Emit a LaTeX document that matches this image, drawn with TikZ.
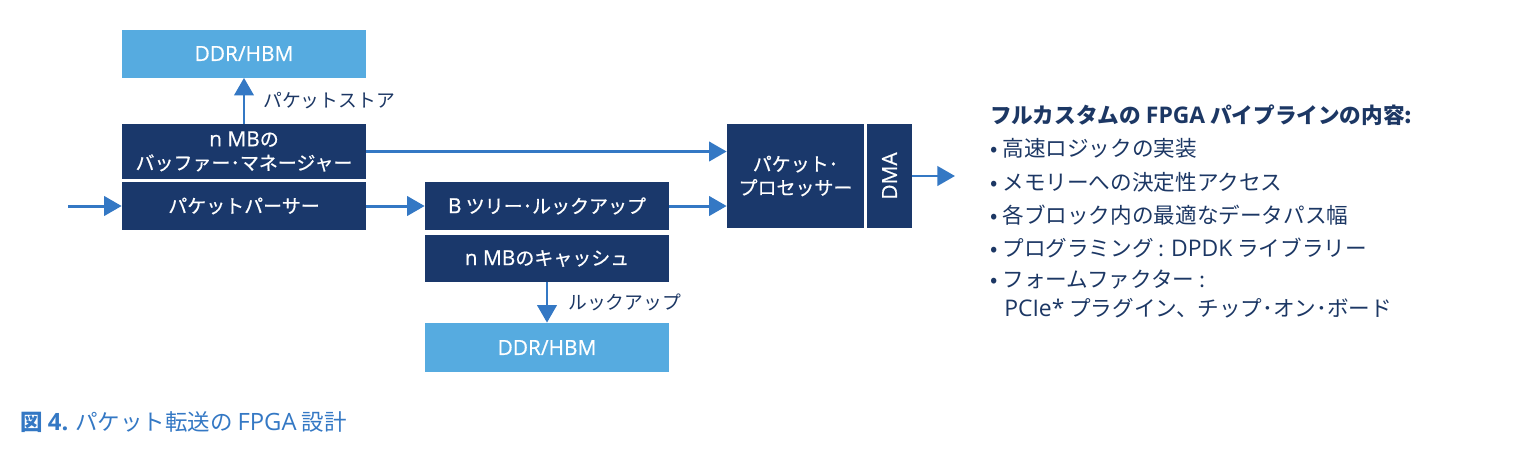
\documentclass[tikz,border=0pt]{standalone}
\usepackage{fontspec}
\setmainfont{Noto Sans CJK JP}
\newfontfamily\boxcjk{Noto Sans CJK JP}[FakeBold=0.6]
\newfontfamily\boxlat{Open Sans}[Scale=1.1,FakeBold=0.6]
\newfontfamily\txtlat{Open Sans}[Scale=1.06]
\newcommand\lt[1]{{\latinfont #1}}
\let\latinfont\txtlat
\usetikzlibrary{arrows.meta}
\definecolor{navy}{RGB}{26,56,107}
\definecolor{skyblue}{RGB}{86,171,224}
\definecolor{flowblue}{RGB}{52,120,196}
\definecolor{inkblue}{RGB}{28,55,100}
\tikzset{
    darkbox/.style= {fill=navy,text=white,inner sep=0,minimum width=4.88cm,minimum height=0.96cm,align=center,font=\boxcjk\fontsize{10.8}{13.5}\selectfont\let\latinfont\boxlat},
    membox/.style= {darkbox,fill=skyblue},
    flow/.style= {draw=flowblue,line width=1.7pt,-{Triangle[length=10pt,width=11pt]}},
    flowlabel/.style= {text=inkblue,anchor=west,inner sep=0,font=\fontsize{10.7}{13}\selectfont},
    listline/.style= {text=inkblue,anchor=west,inner sep=0,font=\fontsize{12.3}{14}\selectfont}
}

\begin{document}
\begin{tikzpicture}[x=0.02cm, y=-0.02cm]
    \useasboundingbox (0,0) rectangle (1516,454);

    \node[membox] (ddrtop) at (244,53.5) {\lt{DDR/HBM}};
    \node[darkbox, minimum height=1.1cm] (bufmgr) at (244,151.5) {\lt{n MB}の\\バッファー･マネージャー};
    \node[darkbox] (parser) at (244,206) {パケットパーサー};
    \node[darkbox] (btree) at (547,206) {\lt{B} ツリー･ルックアップ};
    \node[darkbox, minimum height=0.94cm] (cache) at (547,258.5) {\lt{n MB}のキャッシュ};
    \node[membox, minimum height=0.98cm] (ddrbot) at (547,347.5) {\lt{DDR/HBM}};
    \node[darkbox, minimum width=2.74cm, minimum height=2.08cm] (proc) at (795.5,176) {パケット･\\プロセッサー};
    \node[darkbox, rotate=90, minimum width=2.08cm, minimum height=0.9cm] (dma) at (889.5,176) {\lt{DMA}};

    \coordinate (in) at (68,206);
    \coordinate (out) at (955,176);

    \draw[flow] (in) -- (parser);
    \draw[flow] (bufmgr) -- (ddrtop);
    \draw[flow] (bufmgr.east) -- (bufmgr.east -| proc.west);
    \draw[flow] (parser) -- (btree);
    \draw[flow] (btree.east) -- (btree.east -| proc.west);
    \draw[flow] (cache) -- (ddrbot);
    \draw[flow] (dma.south) -- (out);

    \node[flowlabel] (storelbl) at (263,101) {パケットストア};
    \node[flowlabel] (lookuplbl) at (568,302) {ルックアップ};

    % feature list
    \node[listline, font=\fontsize{12.3}{15}\bfseries] (head) at (990,115) {フルカスタムの \lt{\bfseries FPGA} パイプラインの内容:};
    \node[listline] (item1) at (990,148) {• 高速ロジックの実装};
    \node[listline] (item2) at (990,182) {• メモリーへの決定性アクセス};
    \node[listline] (item3) at (990,215) {• 各ブロック内の最適なデータパス幅};
    \node[listline] (item4) at (990,248) {• プログラミング : \lt{DPDK} ライブラリー};
    \node[listline] (item5) at (990,280) {• フォームファクター :};
    \node[listline] (item6) at (1004,308) {\lt{PCIe*} プラグイン、チップ･オン･ボード};

    \node[listline, text=flowblue, font=\fontsize{12.8}{15}\selectfont] (caption) at (20,422) {\textbf{図 \lt{\bfseries 4.}} パケット転送の \lt{FPGA} 設計};
\end{tikzpicture}
\end{document}
